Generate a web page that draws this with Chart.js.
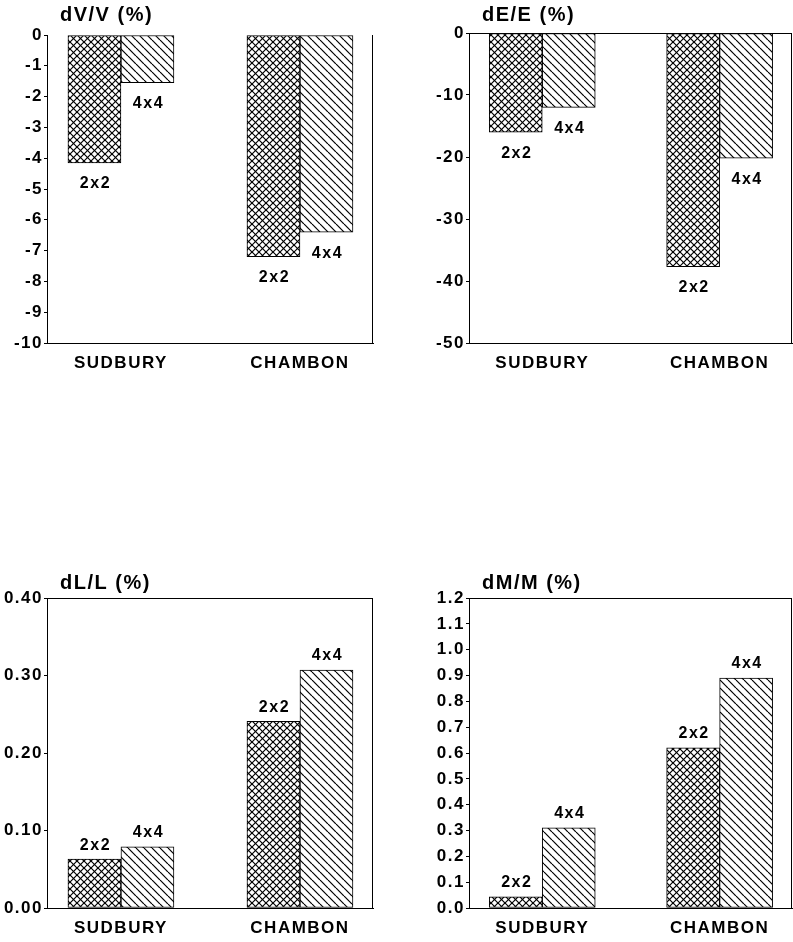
<!DOCTYPE html>
<html>
<head>
<meta charset="utf-8">
<script src="https://cdn.jsdelivr.net/npm/chart.js@4.4.0/dist/chart.umd.min.js"></script>
<style>
body { margin: 0; background: #fff; width: 793px; height: 942px; position: relative; overflow: hidden; }
canvas { position: absolute; }
</style>
</head>
<body>
<canvas id="cV" width="396" height="380" style="left:0;top:0"></canvas>
<canvas id="cE" width="393" height="380" style="left:400px;top:0"></canvas>
<canvas id="cL" width="396" height="382" style="left:0;top:560px"></canvas>
<canvas id="cM" width="393" height="382" style="left:400px;top:560px"></canvas>
<script>
// sites and grid sizes
var sites = ['SUDBURY', 'CHAMBON'];
var gridNames = ['2x2', '4x4'];

// dV/V (%)
var dV2x2 = [-4.15, -7.2];
var dV4x4 = [-1.55, -6.4];
var dVTicks = ['0', '-1', '-2', '-3', '-4', '-5', '-6', '-7', '-8', '-9', '-10'];

// dE/E (%)
var dE2x2 = [-16, -37.7];
var dE4x4 = [-12, -20.2];
var dETicks = ['0', '-10', '-20', '-30', '-40', '-50'];

// dL/L (%)
var dL2x2 = [0.063, 0.241];
var dL4x4 = [0.079, 0.307];
var dLTicks = ['0.00', '0.10', '0.20', '0.30', '0.40'];

// dM/M (%)
var dM2x2 = [0.043, 0.62];
var dM4x4 = [0.31, 0.89];
var dMTicks = ['0.0', '0.1', '0.2', '0.3', '0.4', '0.5', '0.6', '0.7', '0.8', '0.9', '1.0', '1.1', '1.2'];

var FONT = '"Liberation Sans", Arial, Helvetica, sans-serif';

function makeHatch(ctx, size, cross) {
    var c = document.createElement('canvas');
    c.width = size;
    c.height = size;
    var g = c.getContext('2d');
    g.fillStyle = '#fff';
    g.fillRect(0, 0, size, size);
    g.strokeStyle = '#000';
    g.lineWidth = 1.2;
    for (var o = -size; o <= size; o += size) {
        g.beginPath();
        g.moveTo(o, 0);
        g.lineTo(o + size, size);
        g.stroke();
        if (cross) {
            g.beginPath();
            g.moveTo(o + size, 0);
            g.lineTo(o, size);
            g.stroke();
        }
    }
    return ctx.createPattern(c, 'repeat');
}

// frame sides, title and the 2x2 / 4x4 labels
var extrasPlugin = {
    id: 'extras',
    beforeDraw: function(chart) {
        chart.ctx.letterSpacing = '1.5px';
    },
    afterDatasetsDraw: function(chart, args, opts) {
        var ctx = chart.ctx;
        ctx.save();
        ctx.letterSpacing = '1.5px';
        ctx.fillStyle = '#000';
        ctx.font = 'bold 16px ' + FONT;
        ctx.textAlign = 'center';
        ctx.textBaseline = 'middle';
        chart.data.datasets.forEach(function(ds, i) {
            var meta = chart.getDatasetMeta(i);
            meta.data.forEach(function(bar, j) {
                var v = ds.data[j].y;
                var y = v < 0 ? bar.y + 21 : bar.y - 14;
                ctx.fillText(ds.label, bar.x + 1, y);
            });
        });
        ctx.restore();
    },
    afterDraw: function(chart, args, opts) {
        var a = chart.chartArea;
        var ctx = chart.ctx;
        ctx.save();
        ctx.strokeStyle = '#000';
        ctx.lineWidth = 1;
        ctx.beginPath();
        if (opts.top) {
            ctx.moveTo(a.left, a.top + 0.5);
            ctx.lineTo(a.right, a.top + 0.5);
        }
        ctx.moveTo(a.right - 0.5, a.top);
        ctx.lineTo(a.right - 0.5, a.bottom);
        ctx.stroke();
        ctx.letterSpacing = '1.5px';
        ctx.fillStyle = '#000';
        ctx.font = 'bold 20px ' + FONT;
        ctx.textAlign = 'left';
        ctx.textBaseline = 'middle';
        ctx.fillText(opts.title, a.left + 13, a.top - opts.titleGap);
        ctx.restore();
    }
};

function makeChart(id, title, v2, v4, ticks, lay) {
    var ctx = document.getElementById(id).getContext('2d');
    var cross = makeHatch(ctx, 7, true);
    var diag = makeHatch(ctx, 8, false);
    var nums = ticks.map(function(t) { return parseFloat(t); });

    return new Chart(ctx, {
        type: 'bar',
        data: {
            datasets: [{
                label: gridNames[0],
                data: sites.map(function(s, i) { return { x: i, y: v2[i] }; }),
                backgroundColor: cross,
                borderColor: '#000',
                borderWidth: 1,
                borderSkipped: false
            }, {
                label: gridNames[1],
                data: sites.map(function(s, i) { return { x: i, y: v4[i] }; }),
                backgroundColor: diag,
                borderColor: '#000',
                borderWidth: 1,
                borderSkipped: false
            }]
        },
        options: {
            responsive: false,
            animation: false,
            events: [],
            barThickness: 53,
            layout: { padding: { top: lay.top, right: lay.right, left: 0, bottom: 0 } },
            plugins: {
                legend: { display: false },
                tooltip: { enabled: false },
                extras: { title: title, top: lay.frameTop, titleGap: lay.titleGap }
            },
            scales: {
                x: {
                    type: 'linear',
                    offset: false,
                    min: -0.413,
                    max: 1.408,
                    grid: { display: false, drawTicks: false },
                    border: { display: true, color: '#000', width: 1 },
                    afterBuildTicks: function(scale) {
                        scale.ticks = sites.map(function(s, i) { return { value: i }; });
                    },
                    afterFit: function(scale) { scale.height = lay.bottom; },
                    ticks: {
                        color: '#000',
                        padding: 10,
                        maxRotation: 0,
                        autoSkip: false,
                        font: { family: FONT, size: 17, weight: 'bold' },
                        callback: function(v, i) { return sites[i]; }
                    }
                },
                y: {
                    min: nums[nums.length - 1] < nums[0] ? nums[nums.length - 1] : nums[0],
                    max: nums[nums.length - 1] < nums[0] ? nums[0] : nums[nums.length - 1],
                    grid: { drawOnChartArea: false, drawTicks: true, tickLength: 3, color: '#000' },
                    border: { display: true, color: '#000', width: 1 },
                    afterBuildTicks: function(scale) {
                        scale.ticks = nums.map(function(n) { return { value: n }; });
                    },
                    afterFit: function(scale) { scale.width = lay.left; },
                    ticks: {
                        color: '#000',
                        padding: 1,
                        autoSkip: false,
                        font: { family: FONT, size: 17, weight: 'bold' },
                        callback: function(v, i) { return ticks[i]; }
                    }
                }
            }
        },
        plugins: [extrasPlugin]
    });
}

makeChart('cV', 'dV/V (%)', dV2x2, dV4x4, dVTicks,
    { left: 47, top: 35, right: 23, bottom: 37, frameTop: false, titleGap: 20 });
makeChart('cE', 'dE/E (%)', dE2x2, dE4x4, dETicks,
    { left: 69, top: 33, right: 1, bottom: 37, frameTop: true, titleGap: 18 });
makeChart('cL', 'dL/L (%)', dL2x2, dL4x4, dLTicks,
    { left: 47, top: 38, right: 23, bottom: 34, frameTop: true, titleGap: 15 });
makeChart('cM', 'dM/M (%)', dM2x2, dM4x4, dMTicks,
    { left: 69, top: 38, right: 1, bottom: 34, frameTop: true, titleGap: 15 });
</script>
</body>
</html>
